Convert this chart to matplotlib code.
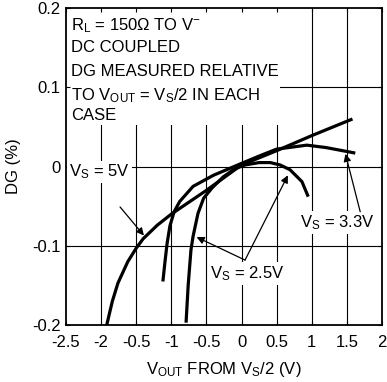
import matplotlib
matplotlib.use("Agg")
import matplotlib.pyplot as plt
from matplotlib.patches import Rectangle

plt.rcParams['font.family'] = ['Liberation Sans', 'DejaVu Sans']
plt.rcParams['mathtext.fontset'] = 'custom'
plt.rcParams['mathtext.rm'] = 'Liberation Sans'
plt.rcParams['mathtext.it'] = 'Liberation Sans'

# Data
vs5_x = [-1.92, -1.84, -1.76, -1.62, -1.50, -1.40, -1.2, -1.0, -0.75, -0.5, -0.25, 0.0, 0.5, 1.0, 1.58]
vs5_y = [-0.200, -0.170, -0.147, -0.120, -0.103, -0.091, -0.074, -0.060, -0.045, -0.030, -0.014, 0.002, 0.020, 0.039, 0.060]

vs33_x = [-1.12, -1.09, -1.06, -1.02, -0.96, -0.88, -0.69, -0.4, 0.0, 0.3, 0.5, 0.93, 1.2, 1.62]
vs33_y = [-0.145, -0.120, -0.097, -0.075, -0.057, -0.044, -0.025, -0.011, 0.004, 0.015, 0.022, 0.027, 0.024, 0.017]

vs25_x = [-0.79, -0.76, -0.72, -0.69, -0.62, -0.54, -0.42, -0.26, -0.1, 0.05, 0.25, 0.41, 0.55, 0.69, 0.86, 0.95]
vs25_y = [-0.197, -0.150, -0.105, -0.088, -0.059, -0.040, -0.027, -0.013, -0.003, 0.002, 0.005, 0.005, 0.002, -0.004, -0.019, -0.038]

xticks = [-2.5, -2.0, -1.5, -1.0, -0.5, 0.0, 0.5, 1.0, 1.5, 2.0]
xticklabels = ['-2.5', '-2', '-0.5', '-1', '-0.5', '0', '0.5', '1', '1.5', '2']
yticks = [-0.2, -0.1, 0.0, 0.1, 0.2]
yticklabels = ['-0.2', '-0.1', '0', '0.1', '0.2']

fig = plt.figure(figsize=(3.87, 3.82), dpi=100)
ax = fig.add_axes([0.1705, 0.149, 0.8165, 0.830])
ax.set_xlim(-2.5, 2.0)
ax.set_ylim(-0.2, 0.2)

# manual grid
for xv in xticks[1:-1]:
    ax.axvline(xv, color='black', lw=0.8, zorder=0.5)
for yv in yticks[1:-1]:
    ax.axhline(yv, color='black', lw=0.8, zorder=0.5)

# white box behind text
ax.add_patch(Rectangle((0, 0.63), 0.677, 0.37, transform=ax.transAxes,
                       facecolor='white', edgecolor='none', zorder=1))

lw = 2.3
ax.plot(vs5_x, vs5_y, color='black', lw=lw, zorder=3, solid_capstyle='butt')
ax.plot(vs33_x, vs33_y, color='black', lw=lw, zorder=3, solid_capstyle='butt')
ax.plot(vs25_x, vs25_y, color='black', lw=lw, zorder=3, solid_capstyle='butt')

fs = 12
ax.set_xticks(xticks)
ax.set_xticklabels(xticklabels)
ax.set_yticks(yticks)
ax.set_yticklabels(yticklabels)
ax.tick_params(direction='in', length=3, width=0.8, labelsize=fs, pad=4,
               top=True, right=True, colors='black')
ax.tick_params(axis='x', pad=7)
for s in ax.spines.values():
    s.set_linewidth(1.3)
    s.set_zorder(4)

ax.set_ylabel('DG (%)', fontsize=fs, labelpad=8)
ax.set_xlabel(r'$\mathregular{V_{OUT}}$ FROM $\mathregular{V_S}$/2 (V)', fontsize=fs, labelpad=7)

lines_txt = [r'$\mathregular{R_L}$ = 150Ω TO $\mathregular{V^{-}}$',
             'DC COUPLED',
             'DG MEASURED RELATIVE',
             r'TO $\mathregular{V_{OUT}}$ = $\mathregular{V_S}$/2 IN EACH',
             'CASE']
ys = [0.945, 0.875, 0.8, 0.725, 0.66]
for t, yy in zip(lines_txt, ys):
    ax.text(0.016, yy, t, transform=ax.transAxes, fontsize=fs, va='center', ha='left', zorder=5)

bb = dict(facecolor='white', edgecolor='none', pad=1.5)
ap = dict(arrowstyle='-|>', lw=0.9, color='black', mutation_scale=11, shrinkA=0, shrinkB=0)
ax.text(-2.02, -0.007, r'$\mathregular{V_S}$ = 5V', fontsize=fs, ha='center', va='center', zorder=2, bbox=bb)
ax.annotate('', xy=(-1.39, -0.087), xytext=(-1.73, -0.051), arrowprops=ap, zorder=5)

ax.text(1.37, -0.071, r'$\mathregular{V_S}$ = 3.3V', fontsize=fs, ha='center', va='center', zorder=2, bbox=bb)
ax.annotate('', xy=(1.48, 0.016), xytext=(1.69, -0.057), arrowprops=ap, zorder=5)

ax.text(0.08, -0.135, r'$\mathregular{V_S}$ = 2.5V', fontsize=fs, ha='center', va='center', zorder=2, bbox=bb)
ax.annotate('', xy=(-0.64, -0.089), xytext=(0.05, -0.118), arrowprops=ap, zorder=5)
ax.annotate('', xy=(0.66, -0.011), xytext=(0.05, -0.118), arrowprops=ap, zorder=5)

fig.savefig('out.png', dpi=100)
